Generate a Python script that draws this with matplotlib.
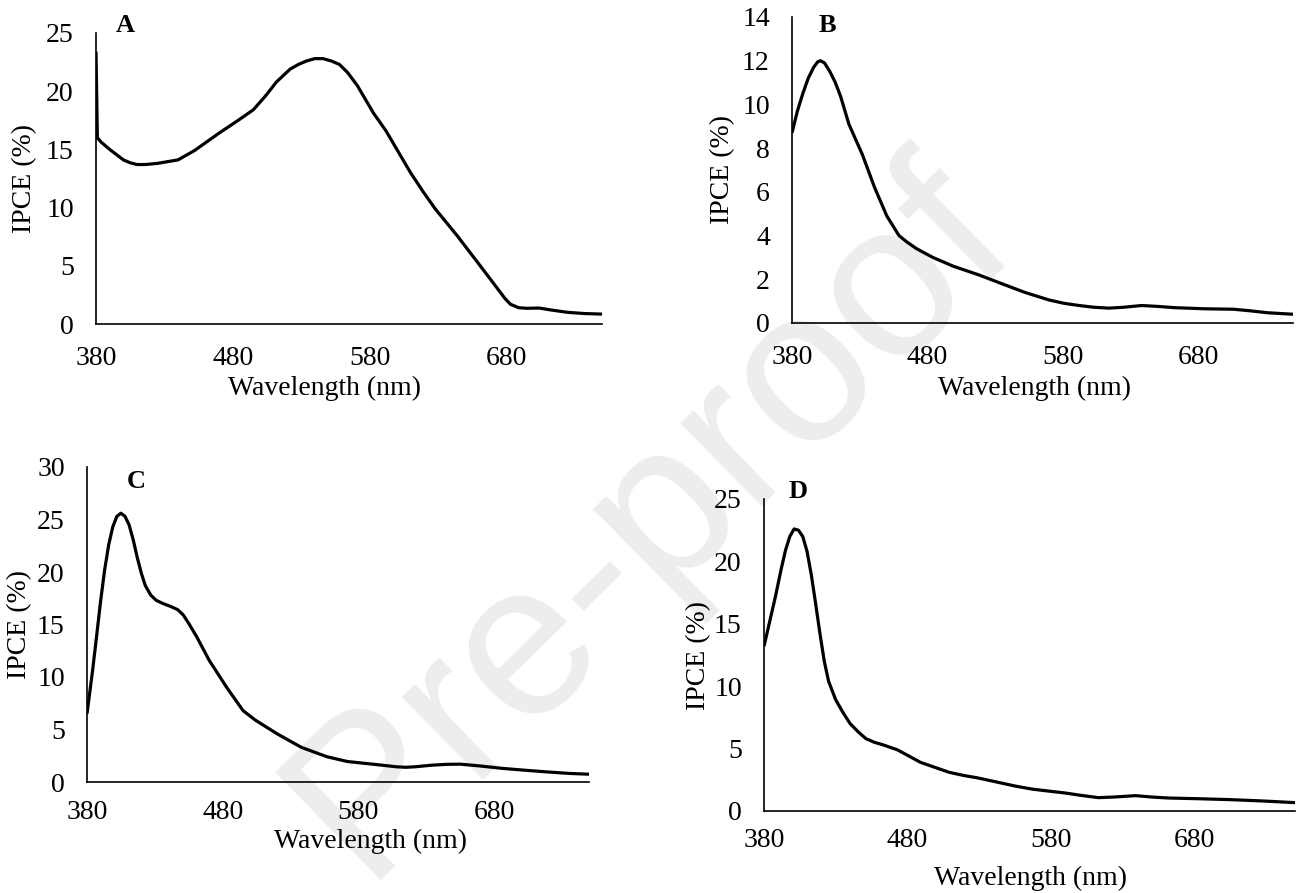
import numpy as np
import matplotlib
matplotlib.use("Agg")
import matplotlib.pyplot as plt

plt.rcParams['font.family'] = ['Liberation Serif', 'DejaVu Serif']

# ---- data (wavelength nm, IPCE %) ----
wl_a = [380, 381, 384, 390, 400, 405, 410, 416, 425, 440, 452, 470, 484, 495,
        504, 512, 522, 528, 534, 540, 546, 552, 558, 564, 571, 577, 583, 592,
        601, 610, 619, 628, 644, 659, 670, 679, 683, 689, 695, 704, 713, 725,
        737, 750]
ipce_a = [23.4, 16.0, 15.6, 15.0, 14.1, 13.85, 13.7, 13.7, 13.8, 14.1, 14.9,
          16.4, 17.5, 18.4, 19.6, 20.8, 21.9, 22.3, 22.6, 22.8, 22.8, 22.6, 22.3,
          21.6, 20.5, 19.3, 18.1, 16.6, 14.8, 13.0, 11.4, 9.9, 7.6, 5.3, 3.6,
          2.2, 1.7, 1.4, 1.35, 1.37, 1.2, 1.0, 0.9, 0.85]

wl_b = [380, 384, 388, 392, 396, 399, 401, 404, 408, 412, 416, 422, 427, 432,
        441, 450, 455, 459, 465, 472, 484, 499, 518, 537, 552, 570, 581, 592,
        603, 614, 625, 638, 650, 663, 685, 706, 718, 731, 750]
ipce_b = [8.7, 9.7, 10.5, 11.2, 11.7, 11.95, 12.0, 11.9, 11.5, 11.0, 10.35, 9.1,
          8.4, 7.7, 6.2, 4.9, 4.4, 4.0, 3.7, 3.4, 3.0, 2.6, 2.2, 1.75, 1.4, 1.05,
          0.9, 0.8, 0.72, 0.68, 0.72, 0.8, 0.76, 0.7, 0.65, 0.63, 0.56, 0.47, 0.4]

wl_c = [380, 384, 387, 390, 393, 396, 399, 402, 405, 408, 411, 414, 417, 420,
        423, 427, 431, 436, 442, 447, 451, 455, 461, 470, 483, 495, 504, 520,
        538, 557, 572, 594, 608, 615, 622, 634, 645, 655, 668, 686, 700, 717, 735,
        750]
ipce_c = [6.5, 10.5, 13.8, 17.2, 20.2, 22.6, 24.3, 25.3, 25.6, 25.3, 24.5, 23.1,
          21.4, 19.9, 18.7, 17.8, 17.3, 17.0, 16.7, 16.4, 15.9, 15.1, 13.8, 11.6,
          9.0, 6.8, 5.9, 4.6, 3.3, 2.4, 1.95, 1.65, 1.45, 1.4, 1.45, 1.6, 1.68, 1.7,
          1.55, 1.3, 1.15, 0.98, 0.82, 0.74]

wl_d = [380, 384, 388, 392, 395, 398, 401, 404, 407, 410, 413, 416, 419, 422,
        425, 430, 435, 440, 446, 451, 457, 463, 473, 481, 489, 499, 509, 519, 529,
        543, 555, 567, 578, 590, 601, 613, 624, 639, 650, 662, 684, 705, 728, 750]
ipce_d = [13.2, 15.2, 17.2, 19.4, 20.9, 22.0, 22.6, 22.5, 22.0, 20.8, 18.9, 16.6,
          14.2, 12.0, 10.4, 8.9, 7.9, 7.0, 6.3, 5.8, 5.5, 5.3, 4.9, 4.4, 3.9, 3.5,
          3.1, 2.85, 2.65, 2.3, 2.0, 1.75, 1.6, 1.44, 1.25, 1.07, 1.12, 1.23, 1.12,
          1.04, 0.98, 0.91, 0.8, 0.67]

panels = ["A", "B", "C", "D"]
y_max = [25, 14, 30, 25]
y_step = [5, 2, 5, 5]
x_ticks = [380, 480, 580, 680]

W, H = 1300, 893
fig = plt.figure(figsize=(W / 100, H / 100), dpi=100)

# faint watermark behind the panels
fig.text(0.50, 0.42, "Pre-proof", rotation=44.5, fontsize=158, color="#ededed",
         family="Liberation Sans", ha="center", va="center", zorder=0)

# pixel boxes: left, top, right, zero-line y
boxes = [(96, 33, 602, 324), (792, 17, 1293, 323),
         (87, 467, 589, 782), (764, 499, 1295, 811)]
letter_pos = [(125, 25), (827, 25), (136, 482), (798, 492)]
xlabel_y = [389, 389, 842, 879]
xlabel_x = [325, 1035, 371, 1031]
ylabel_x = [24, 722, 19, 698]
xtick_pad = [16, 16, 13, 12]

series = [(wl_a, ipce_a), (wl_b, ipce_b), (wl_c, ipce_c), (wl_d, ipce_d)]

for i, (wl, ipce) in enumerate(series):
    l, t, r, b = boxes[i]
    ax = fig.add_axes([l / W, 1 - b / H, (r - l) / W, (b - t) / H], zorder=2)
    ax.patch.set_alpha(0)
    ax.plot(wl, ipce, color="black", lw=2.3, solid_joinstyle="round",
            solid_capstyle="butt")
    ax.set_xlim(380, 750)
    ax.set_ylim(0, y_max[i])
    ax.set_xticks(x_ticks)
    ax.set_yticks(np.arange(0, y_max[i] + 0.1, y_step[i]))
    ax.tick_params(length=0, labelsize=20)
    ax.tick_params(axis="x", pad=xtick_pad[i])
    ax.tick_params(axis="y", pad=16)
    for s in ["top", "right"]:
        ax.spines[s].set_visible(False)
    for s in ["left", "bottom"]:
        ax.spines[s].set_linewidth(1.2)
        ax.spines[s].set_color("black")

    wpx, hpx = r - l, b - t
    ax.set_xlabel("Wavelength (nm)", fontsize=20)
    ax.xaxis.set_label_coords((xlabel_x[i] - l) / wpx, (b - (xlabel_y[i] - 13)) / hpx)
    ax.set_ylabel("IPCE (%)", fontsize=20)
    ax.yaxis.set_label_coords((ylabel_x[i] + 13 - l) / wpx, 0.5)

    lx, ly = letter_pos[i]
    ax.text((lx - l) / wpx, (b - ly) / hpx, panels[i], transform=ax.transAxes,
            fontsize=19, fontweight="bold", ha="center", va="center")

fig.savefig("out.png", dpi=100)
